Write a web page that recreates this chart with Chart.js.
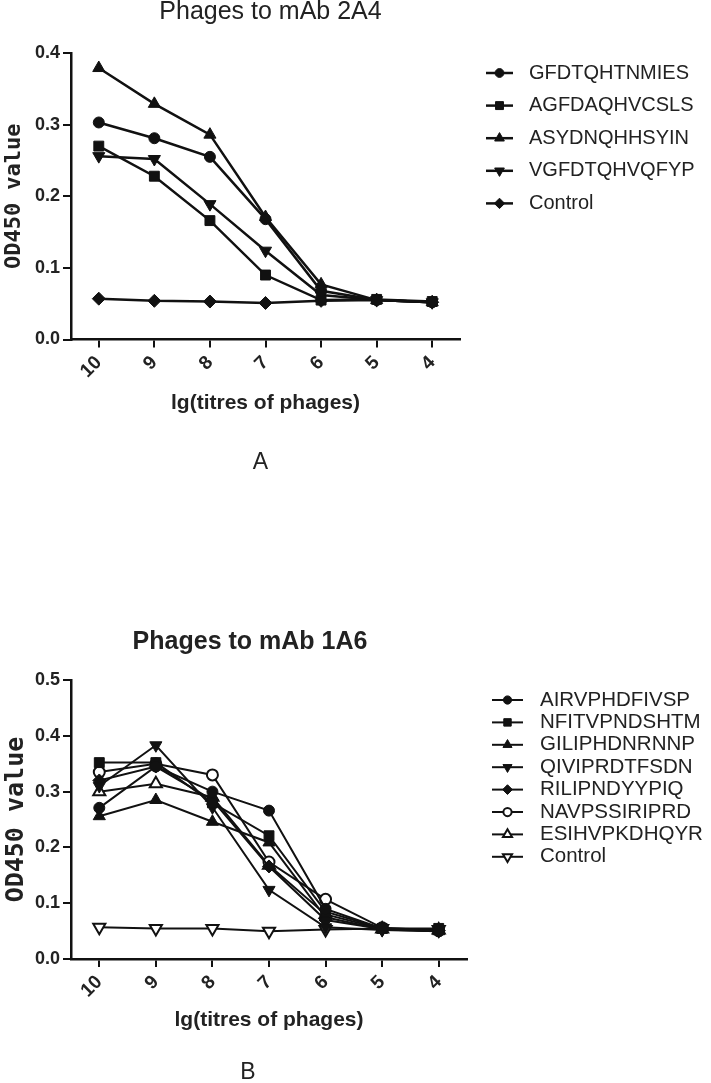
<!DOCTYPE html>
<html>
<head>
<meta charset="utf-8">
<script src="https://cdn.jsdelivr.net/npm/chart.js@4.4.1/dist/chart.umd.min.js"></script>
<style>
  body { margin: 0; background: #fff; }
  canvas { display: block; }
</style>
</head>
<body>
<canvas id="chartA" width="711" height="540"></canvas>
<canvas id="chartB" width="711" height="543"></canvas>
<script>
const titres = ['10', '9', '8', '7', '6', '5', '4'];

// panel A - phages to mAb 2A4
const gfdtqhtnmies = [0.303, 0.281, 0.255, 0.168, 0.068, 0.055, 0.052];
const agfdaqhvcsls = [0.270, 0.228, 0.166, 0.090, 0.055, 0.056, 0.053];
const asydnqhhsyin = [0.379, 0.329, 0.286, 0.171, 0.077, 0.055, 0.052];
const vgfdtqhvqfyp = [0.256, 0.252, 0.189, 0.124, 0.062, 0.055, 0.052];
const controlA = [0.057, 0.054, 0.053, 0.051, 0.054, 0.055, 0.052];

// panel B - phages to mAb 1A6
const airvphdfivsp = [0.271, 0.345, 0.300, 0.266, 0.090, 0.055, 0.050];
const nfitvpndshtm = [0.352, 0.352, 0.280, 0.221, 0.085, 0.055, 0.055];
const giliphdnrnnp = [0.256, 0.285, 0.246, 0.209, 0.075, 0.053, 0.050];
const qiviprdtfsdn = [0.310, 0.383, 0.272, 0.124, 0.057, 0.052, 0.050];
const rilipndyypiq = [0.320, 0.345, 0.285, 0.166, 0.070, 0.054, 0.051];
const navpssiriprd = [0.335, 0.350, 0.330, 0.174, 0.107, 0.056, 0.051];
const esihvpkdhqyr = [0.300, 0.314, 0.290, 0.168, 0.080, 0.054, 0.052];
const controlB = [0.057, 0.055, 0.055, 0.050, 0.053, 0.055, 0.053];

const ink = '#111';
const textColor = '#222';
const sans = "'Liberation Sans', Arial, sans-serif";
const mono = "'DejaVu Sans Mono', monospace";

// marker shapes, graphpad style
const markers = {
    circle: {pointStyle: 'circle', pointRadius: 5.5},
    square: {pointStyle: 'rect', pointRadius: 7},
    up: {pointStyle: 'triangle', pointRadius: 7},
    down: {pointStyle: 'triangle', pointRadius: 7, pointRotation: 180},
    diamond: {pointStyle: 'rectRot', pointRadius: 6.5}
};

function series(label, data, marker, open, lineWidth) {
    return Object.assign({
        label: label,
        data: data,
        borderColor: ink,
        borderWidth: lineWidth,
        pointBackgroundColor: open ? '#fff' : ink,
        pointBorderColor: ink,
        pointBorderWidth: open ? 2 : 1,
        pointRotation: 0,
        tension: 0,
        fill: false
    }, markers[marker]);
}

// legend drawn as line + marker like the original figure
const lineLegend = {
    id: 'lineLegend',
    afterDraw(chart, args, opts) {
        const ctx = chart.ctx;
        ctx.save();
        ctx.font = opts.font;
        ctx.textBaseline = 'middle';
        chart.data.datasets.forEach((ds, i) => {
            const y = opts.y + i * opts.step;
            const cx = opts.x + opts.lineLen / 2;
            ctx.strokeStyle = ds.borderColor;
            ctx.lineWidth = ds.borderWidth;
            ctx.beginPath();
            ctx.moveTo(opts.x, y);
            ctx.lineTo(opts.x + opts.lineLen, y);
            ctx.stroke();
            ctx.fillStyle = ds.pointBackgroundColor;
            ctx.strokeStyle = ds.pointBorderColor;
            ctx.lineWidth = ds.pointBorderWidth;
            Chart.helpers.drawPoint(ctx, {
                pointStyle: ds.pointStyle,
                radius: ds.pointRadius * opts.scale,
                rotation: ds.pointRotation,
                borderWidth: ds.pointBorderWidth
            }, cx, y);
            ctx.fillStyle = textColor;
            ctx.fillText(ds.label, opts.textX, y);
        });
        ctx.restore();
    }
};

// nudge title / panel letter sideways, the figure doesn't center them exactly
const textShift = {
    id: 'textShift',
    afterLayout(chart, args, opts) {
        chart.boxes.forEach(b => {
            const dx = b.options && opts[b.options.text];
            if (dx) {
                b.left += dx;
                b.right += dx;
            }
        });
    }
};

function makeChart(id, cfg) {
    const ctx = document.getElementById(id).getContext('2d');
    return new Chart(ctx, {
        type: 'line',
        data: {labels: titres, datasets: cfg.datasets},
        plugins: [lineLegend, textShift],
        options: {
            responsive: false,
            animation: false,
            layout: {padding: {left: 0, right: cfg.rightPad, top: 0, bottom: 0}},
            plugins: {
                legend: {display: false},
                tooltip: {enabled: false},
                title: {
                    display: true,
                    text: cfg.title,
                    fullSize: false,
                    color: textColor,
                    font: cfg.titleFont,
                    padding: cfg.titlePad
                },
                subtitle: {
                    display: true,
                    text: cfg.panel,
                    position: 'bottom',
                    fullSize: false,
                    color: textColor,
                    font: {family: sans, size: 23, lineHeight: 0.9},
                    padding: cfg.panelPad
                },
                lineLegend: cfg.legend,
                textShift: cfg.shift
            },
            scales: {
                x: {
                    offset: true,
                    border: {color: ink, width: 2.5},
                    grid: {drawOnChartArea: false, drawTicks: true, tickLength: 8, color: ink, lineWidth: 2},
                    ticks: {color: textColor, font: {family: sans, size: 19, weight: 'bold'}, minRotation: 45, maxRotation: 45, padding: 4},
                    title: {
                        display: true,
                        text: 'lg(titres of phages)',
                        color: textColor,
                        font: {family: sans, size: 21, weight: 'bold'},
                        padding: {top: 0, bottom: cfg.xTitlePad}
                    },
                    afterFit: s => { s.height = cfg.xHeight; }
                },
                y: {
                    min: 0,
                    max: cfg.yMax,
                    border: {color: ink, width: 2.5},
                    grid: {drawOnChartArea: false, drawTicks: true, tickLength: 8, color: ink, lineWidth: 2},
                    ticks: {
                        stepSize: 0.1,
                        color: textColor,
                        padding: 3,
                        font: {family: sans, size: 18, weight: 'bold'},
                        callback: v => v.toFixed(1)
                    },
                    title: {
                        display: true,
                        text: 'OD450 value',
                        color: textColor,
                        font: {family: mono, size: cfg.yTitleSize, weight: 'bold'},
                        padding: {top: 1, bottom: 0}
                    },
                    afterFit: s => { s.width = 71; }
                }
            }
        }
    });
}

makeChart('chartA', {
    title: 'Phages to mAb 2A4',
    titleFont: {family: sans, size: 25, weight: 'normal', lineHeight: 1},
    titlePad: {top: 0, bottom: 28},
    panel: 'A',
    panelPad: {top: 10, bottom: 67},
    shift: {'Phages to mAb 2A4': 5, 'A': -5},
    rightPad: 251,
    xHeight: 102.8,
    xTitlePad: 26.8,
    yMax: 0.4,
    yTitleSize: 22,
    legend: {x: 486, lineLen: 27, textX: 529, y: 73, step: 32.6, scale: 0.8, font: '20px ' + sans},
    datasets: [
        series('GFDTQHTNMIES', gfdtqhtnmies, 'circle', false, 2.5),
        series('AGFDAQHVCSLS', agfdaqhvcsls, 'square', false, 2.5),
        series('ASYDNQHHSYIN', asydnqhhsyin, 'up', false, 2.5),
        series('VGFDTQHVQFYP', vgfdtqhvqfyp, 'down', false, 2.5),
        series('Control', controlA, 'diamond', false, 2.5)
    ]
});

makeChart('chartB', {
    title: 'Phages to mAb 1A6',
    titleFont: {family: sans, size: 25, weight: 'bold', lineHeight: 1},
    titlePad: {top: 89.5, bottom: 25.5},
    panel: 'B',
    panelPad: {top: 10, bottom: 0.2},
    shift: {'Phages to mAb 1A6': -19, 'B': -21},
    rightPad: 244,
    xHeight: 93,
    xTitlePad: 19,
    yMax: 0.5,
    yTitleSize: 25,
    legend: {x: 492, lineLen: 31, textX: 540, y: 160, step: 22.4, scale: 0.75, font: '20.5px ' + sans},
    datasets: [
        series('AIRVPHDFIVSP', airvphdfivsp, 'circle', false, 2),
        series('NFITVPNDSHTM', nfitvpndshtm, 'square', false, 2),
        series('GILIPHDNRNNP', giliphdnrnnp, 'up', false, 2),
        series('QIVIPRDTFSDN', qiviprdtfsdn, 'down', false, 2),
        series('RILIPNDYYPIQ', rilipndyypiq, 'diamond', false, 2),
        series('NAVPSSIRIPRD', navpssiriprd, 'circle', true, 2),
        series('ESIHVPKDHQYR', esihvpkdhqyr, 'up', true, 2),
        series('Control', controlB, 'down', true, 2)
    ]
});
</script>
</body>
</html>
